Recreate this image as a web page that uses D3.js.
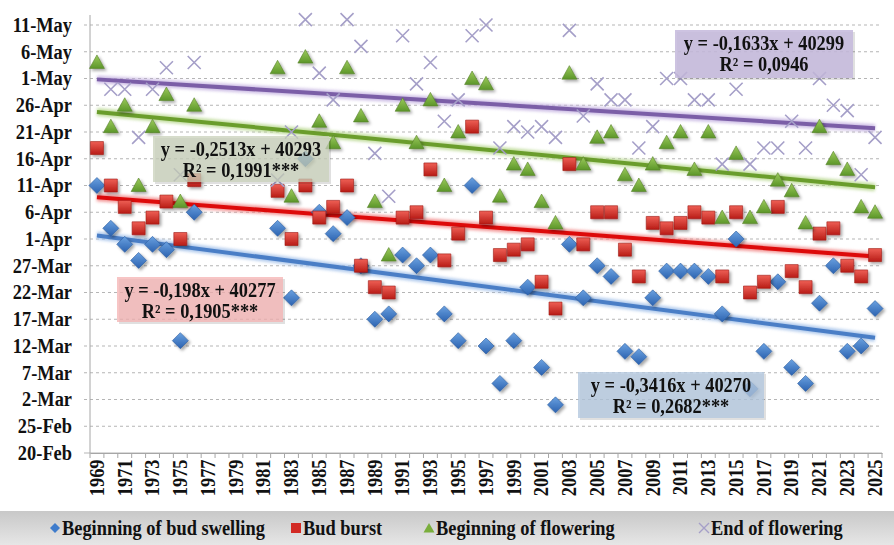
<!DOCTYPE html>
<html>
<head>
<meta charset="utf-8">
<script src="https://cdn.jsdelivr.net/npm/d3@7"></script>
<style>
body{margin:0;background:#fff;}
svg text{font-family:"Liberation Serif","Times New Roman",serif;font-weight:bold;fill:#111;}
</style>
</head>
<body>
<div id="chart"></div>
<script>

// ---------------- DATA ----------------
const years = [1969,1970,1971,1972,1973,1974,1975,1976,1977,1978,1979,1980,1981,1982,1983,1984,1985,1986,
    1987,1988,1989,1990,1991,1992,1993,1994,1995,1996,1997,1998,1999,2000,2001,2002,2003,2004,2005,2006,
    2007,2008,2009,2010,2011,2012,2013,2014,2015,2016,2017,2018,2019,2020,2021,2022,2023,2024,2025];

const budSwelling = ["11-Apr","3-Apr","31-Mar","28-Mar","31-Mar","30-Mar","13-Mar","6-Apr",null,null,null,null,null,
    "3-Apr","21-Mar","16-Apr","6-Apr","2-Apr","5-Apr","27-Mar","17-Mar","18-Mar","29-Mar","27-Mar","29-Mar",
    "18-Mar","13-Mar","11-Apr","12-Mar","5-Mar","13-Mar","23-Mar","8-Mar","1-Mar","31-Mar","21-Mar","27-Mar",
    "25-Mar","11-Mar","10-Mar","21-Mar","26-Mar","26-Mar","26-Mar","25-Mar","18-Mar","1-Apr","4-Mar","11-Mar",
    "24-Mar","8-Mar","5-Mar","20-Mar","27-Mar","11-Mar","12-Mar","19-Mar"];

const budBurst = ["18-Apr","11-Apr","7-Apr","3-Apr","5-Apr","8-Apr","1-Apr","12-Apr",null,null,null,null,null,
    "10-Apr","1-Apr","11-Apr","5-Apr","7-Apr","11-Apr","27-Mar","23-Mar","22-Mar","5-Apr","6-Apr","14-Apr",
    "28-Mar","2-Apr","22-Apr","5-Apr","29-Mar","30-Mar","31-Mar","24-Mar","19-Mar","15-Apr","31-Mar","6-Apr",
    "6-Apr","30-Mar","25-Mar","4-Apr","3-Apr","4-Apr","6-Apr","5-Apr","25-Mar","6-Apr","22-Mar","24-Mar",
    "7-Apr","26-Mar","23-Mar","2-Apr","3-Apr","27-Mar","25-Mar","29-Mar"];

const floweringStart = ["4-May","22-Apr","26-Apr","11-Apr","22-Apr","28-Apr","8-Apr","26-Apr",null,null,null,null,null,
    "3-May","9-Apr","5-May","23-Apr","19-Apr","3-May","24-Apr","8-Apr","29-Mar","26-Apr","19-Apr","27-Apr",
    "11-Apr","21-Apr","1-May","30-Apr","9-Apr","15-Apr","14-Apr","8-Apr","4-Apr","2-May","15-Apr","20-Apr",
    "21-Apr","13-Apr","11-Apr","15-Apr","19-Apr","21-Apr","14-Apr","21-Apr","5-Apr","17-Apr","5-Apr","7-Apr",
    "12-Apr","10-Apr","4-Apr","22-Apr","16-Apr","14-Apr","7-Apr","6-Apr"];

const floweringEnd = [null,"29-Apr","29-Apr","20-Apr","29-Apr","3-May","13-Apr","4-May",null,null,null,null,null,
    "12-Apr","21-Apr","12-May","2-May","27-Apr","12-May","7-May","17-Apr","9-Apr","9-May","30-Apr","4-May",
    "23-Apr","27-Apr","9-May","11-May","18-Apr","22-Apr","21-Apr","22-Apr","20-Apr","10-May","24-Apr","30-Apr",
    "27-Apr","27-Apr","18-Apr","22-Apr","1-May","1-May","27-Apr","27-Apr","15-Apr","29-Apr","15-Apr","18-Apr",
    "18-Apr","23-Apr","18-Apr","1-May","26-Apr","25-Apr","13-Apr","20-Apr"];

const seriesNames = ["Beginning of bud swelling","Bud burst","Beginning of flowering","End of flowering"];

const yTickLabels = ["20-Feb","25-Feb","2-Mar","7-Mar","12-Mar","17-Mar","22-Mar","27-Mar","1-Apr","6-Apr",
    "11-Apr","16-Apr","21-Apr","26-Apr","1-May","6-May","11-May"];

// trend lines as printed on the chart (x = 1..57, y = Excel date serial)
const trendSlopes = [-0.3416, -0.198, -0.2513, -0.1633];
const trendIntercepts = [40270, 40277, 40293, 40299];
const trendLabels = [
    ["y = -0,3416x + 40270","R² = 0,2682***"],
    ["y = -0,198x + 40277","R² = 0,1905***"],
    ["y = -0,2513x + 40293","R² = 0,1991***"],
    ["y = -0,1633x + 40299","R² = 0,0946"]
];

// ---------------- SETUP ----------------
const width = 894, height = 545;
const plotLeft = 90, plotRight = 882, plotTop = 25, plotBottom = 453;
const squeeze = "scale(0.92,1)";   // narrow Times-like lettering

const svg = d3.select("#chart").append("svg")
    .attr("width", width).attr("height", height);

const parseDay = d3.utcParse("%d-%b-%Y");
const toDate = s => s ? parseDay(s + "-2010") : null;
const fromSerial = s => new Date(Date.UTC(1899, 11, 30) + s * 864e5);

const x = d3.scaleBand().domain(years).range([plotLeft, plotRight]);
const y = d3.scaleUtc()
    .domain([toDate(yTickLabels[0]), toDate(yTickLabels[yTickLabels.length-1])])
    .range([plotBottom, plotTop]);

const defs = svg.append("defs");

const shadow = defs.append("filter").attr("id","shadow")
    .attr("x","-50%").attr("y","-50%").attr("width","200%").attr("height","200%");
shadow.append("feDropShadow").attr("dx",2).attr("dy",2)
    .attr("stdDeviation",1.6).attr("flood-color","#000").attr("flood-opacity",0.35);

const glow = defs.append("filter").attr("id","glow")
    .attr("x","-10%").attr("y","-100%").attr("width","120%").attr("height","300%");
glow.append("feGaussianBlur").attr("stdDeviation",1.5);

const grads = [["gBlue","#6aa1e0","#2b62b0"],["gRed","#ee5f55","#b81c16"],["gGreen","#9ccb5c","#5c9629"]];
grads.forEach(g => {
    const lg = defs.append("linearGradient").attr("id",g[0])
        .attr("x1",0).attr("y1",0).attr("x2",0).attr("y2",1);
    lg.append("stop").attr("offset","0%").attr("stop-color",g[1]);
    lg.append("stop").attr("offset","100%").attr("stop-color",g[2]);
});

const legendGrad = defs.append("linearGradient").attr("id","gLegend")
    .attr("x1",0).attr("y1",0).attr("x2",0).attr("y2",1);
legendGrad.append("stop").attr("offset","0%").attr("stop-color","#c8c8c8");
legendGrad.append("stop").attr("offset","100%").attr("stop-color","#e6e6e6");

// ---------------- GRID + AXES ----------------
svg.append("g")
    .selectAll("line")
    .data(yTickLabels)
    .enter().append("line")
    .attr("x1", plotLeft - 6).attr("x2", plotRight)
    .attr("y1", d => y(toDate(d))).attr("y2", d => y(toDate(d)))
    .attr("stroke", "#b5b5b5")
    .attr("stroke-width", 1)
    .attr("stroke-dasharray", d => d === yTickLabels[0] ? null : "3,3");

const yAxis = svg.append("g")
    .attr("transform", `translate(${plotLeft - 18},0)`)
    .call(d3.axisLeft(y).tickValues(yTickLabels.map(toDate)).tickFormat(d3.utcFormat("%-d-%b")).tickSize(0).tickPadding(0));
yAxis.select(".domain").remove();
yAxis.selectAll("text")
    .style("font-size","20px")
    .attr("x", 0)
    .attr("transform", squeeze);

svg.append("line")
    .attr("x1", plotLeft).attr("x2", plotLeft).attr("y1", 15).attr("y2", plotBottom)
    .attr("stroke", "#a6a6a6");

const xAxis = svg.append("g")
    .attr("transform", `translate(0,${plotBottom})`)
    .call(d3.axisBottom(x).tickValues(years.filter((d,i) => i % 2 === 0)).tickSize(0).tickPadding(6));
xAxis.select(".domain").attr("stroke","#a6a6a6");
xAxis.selectAll("text")
    .style("font-size","20px")
    .attr("text-anchor","end")
    .attr("transform","rotate(-90) " + squeeze)
    .attr("x",-7).attr("y",0).attr("dy","0.34em");

// minor ticks at category boundaries
svg.append("g")
    .selectAll("line")
    .data(years.concat(["end"]))
    .enter().append("line")
    .attr("x1", d => d === "end" ? plotRight : x(d))
    .attr("x2", d => d === "end" ? plotRight : x(d))
    .attr("y1", plotBottom).attr("y2", plotBottom + 5)
    .attr("stroke", "#a6a6a6");

// ---------------- TREND LINES ----------------
const trendColors = ["#4a7ec6","#dd0a0a","#6a9d2c","#7b5ea7"];
const glowColors = ["#9dbde8","#f08080","#b5d68a","#c3b0e0"];
const xFirst = x(years[0]) + x.bandwidth()/2;
const xLast = x(years[years.length-1]) + x.bandwidth()/2;

trendSlopes.forEach((m, i) => {
    const y1 = y(fromSerial(trendIntercepts[i] + m * 1));
    const y2 = y(fromSerial(trendIntercepts[i] + m * years.length));
    svg.append("line")
        .attr("x1", xFirst).attr("x2", xLast).attr("y1", y1).attr("y2", y2)
        .attr("stroke", glowColors[i]).attr("stroke-width", 8)
        .attr("opacity", 0.8).attr("filter","url(#glow)");
    svg.append("line")
        .attr("x1", xFirst).attr("x2", xLast).attr("y1", y1).attr("y2", y2)
        .attr("stroke", trendColors[i]).attr("stroke-width", 4);
});

// ---------------- MARKERS ----------------
const shapes = [
    "M0,-8L8,0L0,8L-8,0Z",
    "M-6.5,-6.5H6.5V6.5H-6.5Z",
    "M0,-7.5L7.5,6L-7.5,6Z",
    "M-6.5,-6.5L6.5,6.5M6.5,-6.5L-6.5,6.5"
];
const fills = ["url(#gBlue)","url(#gRed)","url(#gGreen)","none"];
const strokes = ["#2a5a9e","#9e1a14","#557f2a","#a59fc8"];

[budSwelling, budBurst, floweringStart, floweringEnd].forEach((series, si) => {
    const pts = series.map((v, i) => ({year: years[i], date: toDate(v)})).filter(d => d.date);
    svg.append("g")
        .attr("filter", si < 3 ? "url(#shadow)" : null)
        .selectAll("path")
        .data(pts)
        .enter().append("path")
        .attr("transform", d => `translate(${x(d.year) + x.bandwidth()/2},${y(d.date)})`)
        .attr("d", shapes[si])
        .attr("fill", fills[si])
        .attr("stroke", strokes[si])
        .attr("stroke-width", si === 3 ? 1.6 : 0.6);
});

// ---------------- EQUATION BOXES ----------------
const boxes = [
    {x:578, y:372, w:186, h:46, fill:"rgba(178,198,222,0.78)"},
    {x:117, y:277, w:166, h:45, fill:"rgba(244,178,178,0.75)"},
    {x:153, y:136, w:176, h:46, fill:"rgba(200,208,186,0.75)"},
    {x:675, y:30,  w:178, h:48, fill:"rgba(196,184,220,0.85)"}
];

boxes.forEach((b, i) => {
    svg.append("rect")
        .attr("x", b.x + 2).attr("y", b.y + 2).attr("width", b.w).attr("height", b.h)
        .attr("fill", "rgba(0,0,0,0.12)");
    svg.append("rect")
        .attr("x", b.x).attr("y", b.y).attr("width", b.w).attr("height", b.h)
        .attr("fill", b.fill);
    svg.append("g").selectAll("text")
        .data(trendLabels[i])
        .enter().append("text")
        .attr("transform", (d, j) => `translate(${b.x + b.w/2},${b.y + 19.5 + j * 21.5}) ${squeeze}`)
        .attr("text-anchor","middle")
        .style("font-size","20px")
        .text(d => d);
});

// ---------------- LEGEND ----------------
svg.append("rect")
    .attr("x", 0).attr("y", 511).attr("width", width).attr("height", 34)
    .attr("fill", "url(#gLegend)");

const legendX = [50, 291, 424, 699];
const legendShapes = [
    "M0,-5L5,0L0,5L-5,0Z",
    "M-5,-5H5V5H-5Z",
    "M0,-5L5.5,4.5L-5.5,4.5Z",
    "M-5,-5L5,5M5,-5L-5,5"
];
const legendFills = ["#3f7ccc","#d22a24","#7aae3c","none"];

const leg = svg.append("g").selectAll("g")
    .data(seriesNames)
    .enter().append("g")
    .attr("transform", (d, i) => `translate(${legendX[i]},528)`);

leg.append("path")
    .attr("transform","translate(5,0)")
    .attr("d", (d, i) => legendShapes[i])
    .attr("fill", (d, i) => legendFills[i])
    .attr("stroke", (d, i) => i === 3 ? "#a59fc8" : "none")
    .attr("stroke-width", 1.4);

leg.append("text")
    .attr("transform", `translate(12,7) ${squeeze}`)
    .style("font-size","20px")
    .text(d => d);

</script>
</body>
</html>
